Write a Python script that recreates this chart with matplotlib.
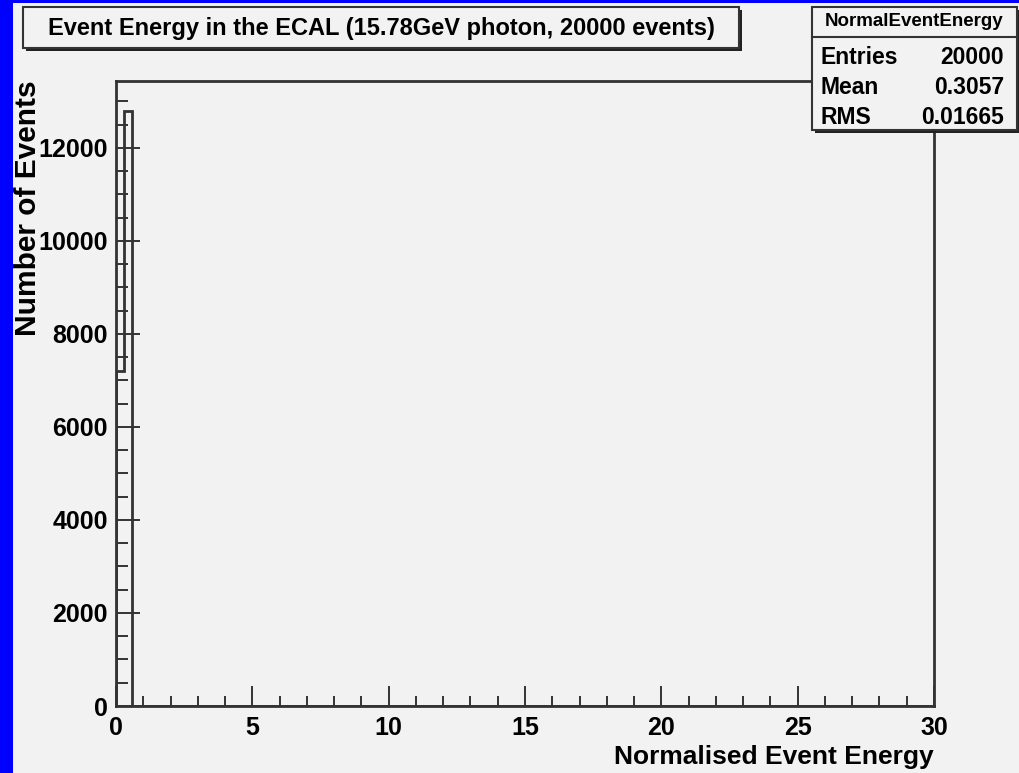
import numpy as np
import matplotlib
matplotlib.use('Agg')
import matplotlib.pyplot as plt
from matplotlib.patches import Rectangle
from matplotlib.ticker import MultipleLocator

plt.rcParams['font.family'] = ['Liberation Sans', 'DejaVu Sans']

# histogram content: 100 bins over [0, 30], only the first two filled
n_bins = 100
x_lo, x_hi = 0.0, 30.0
filled_counts = [7200, 12800]

title = "Event Energy in the ECAL (15.78GeV photon, 20000 events)"
hist_name = "NormalEventEnergy"
stat_names = ["Entries", "Mean", "RMS"]
stat_values = ["20000", "0.3057", "0.01665"]

bg = '#f2f2f2'
ink = '#333333'

W, H = 1019, 773
fig = plt.figure(figsize=(W / 100, H / 100), dpi=100, facecolor=bg)

edges = np.linspace(x_lo, x_hi, n_bins + 1)
counts = np.zeros(n_bins)
counts[:len(filled_counts)] = filled_counts

# main pad, placed in pixel units
L, R, T, B = 116, 934, 81, 706
ax = fig.add_axes([L / W, 1 - B / H, (R - L) / W, (B - T) / H], facecolor=bg)
ax.stairs(counts, edges, color=ink, lw=2)
ax.set_xlim(x_lo, x_hi)
ax.set_ylim(0, max(counts) * 1.05)

for s in ax.spines.values():
    s.set_color(ink)
    s.set_linewidth(2)

ax.xaxis.set_major_locator(MultipleLocator(5))
ax.xaxis.set_minor_locator(MultipleLocator(1))
ax.yaxis.set_major_locator(MultipleLocator(2000))
ax.yaxis.set_minor_locator(MultipleLocator(500))
ax.tick_params(axis='x', which='major', direction='in', length=14.5, width=1.4, color=ink, pad=7)
ax.tick_params(axis='x', which='minor', direction='in', length=7.2, width=1.4, color=ink)
ax.tick_params(axis='y', which='major', direction='in', length=17.5, width=1.4, color=ink, pad=6)
ax.tick_params(axis='y', which='minor', direction='in', length=8.8, width=1.4, color=ink)
ax.tick_params(which='both', top=False, right=False, labelsize=18)
for lab in ax.get_xticklabels() + ax.get_yticklabels():
    lab.set_fontweight('bold')

fig.text(28 / W, 1 - 80 / H, "Number of Events", rotation=90, ha='center', va='top',
         fontsize=21.5, fontweight='bold')
fig.text(R / W, 1 - 757 / H, "Normalised Event Energy", ha='right', va='center',
         fontsize=19, fontweight='bold')

# overlay in pixel coordinates for the boxes and the frame border
ov = fig.add_axes([0, 0, 1, 1], facecolor='none', zorder=5)
ov.set_xlim(0, W)
ov.set_ylim(H, 0)
ov.axis('off')

ov.add_patch(Rectangle((0, 0), 13, H, color='#0000ff', lw=0))
ov.add_patch(Rectangle((0, 0), W, 3, color='#0000ff', lw=0))

# title box with shadow
ov.add_patch(Rectangle((26, 10), 716, 41, facecolor='#222222', lw=0))
ov.add_patch(Rectangle((23, 7), 716, 41, facecolor=bg, edgecolor=ink, lw=1.5))
ov.text(23 + 358, 28, title, ha='center', va='center', fontsize=17, fontweight='bold')

# stats box with shadow
sx, sy, sw, sh = 812, 7, 205, 123
ov.add_patch(Rectangle((sx + 3, sy + 3), sw, sh, facecolor='#222222', lw=0))
ov.add_patch(Rectangle((sx, sy), sw, sh, facecolor=bg, edgecolor=ink, lw=1.5))
ov.plot([sx, sx + sw], [37, 37], color=ink, lw=1.5)
ov.text(sx + sw / 2, 22, hist_name, ha='center', va='center', fontsize=13.5, fontweight='bold')
for i, (nm, val) in enumerate(zip(stat_names, stat_values)):
    yy = 57 + i * 30
    ov.text(sx + 9, yy, nm, ha='left', va='center', fontsize=16.5, fontweight='bold')
    ov.text(sx + sw - 13, yy, val, ha='right', va='center', fontsize=16.5, fontweight='bold')

fig.savefig('out.png', dpi=100, facecolor=bg)
